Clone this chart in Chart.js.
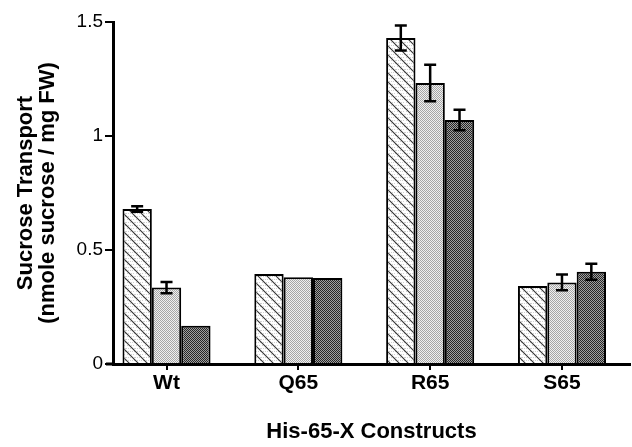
<!DOCTYPE html>
<html lang="en">
<head>
    <meta charset="UTF-8">
    <title>Sucrose Transport</title>
    <style>
        html, body { margin: 0; padding: 0; background: #fff; }
        .container-canvas { width: 632px; height: 447px; }
    </style>
</head>
<body>
    <div class="container-canvas">
        <canvas id="myChart"></canvas>
    </div>

    <script src="https://cdn.jsdelivr.net/npm/chart.js"></script>
    <script>
        // data
        const categories = ['Wt', 'Q65', 'R65', 'S65'];
        const hatchedValues = [0.68, 0.395, 1.43, 0.342];
        const hatchedErrors = [0.012, 0, 0.055, 0];
        const lightValues = [0.335, 0.38, 1.232, 0.358];
        const lightErrors = [0.025, 0, 0.08, 0.035];
        const darkValues = [0.168, 0.377, 1.07, 0.405];
        const darkErrors = [0, 0, 0.045, 0.035];
        const yTicks = [0, 0.5, 1, 1.5];

        const fontFamily = '"Liberation Sans", Arial, Helvetica, sans-serif';

        function makePattern(draw, size) {
            const c = document.createElement('canvas');
            c.width = size;
            c.height = size;
            const g = c.getContext('2d');
            draw(g, size);
            return g.createPattern(c, 'repeat');
        }

        function stipple(g, size, bg, dot, step) {
            g.fillStyle = bg;
            g.fillRect(0, 0, size, size);
            g.fillStyle = dot;
            for (let y = 0; y < size; y += step) {
                for (let x = (y / step) % 2 ? 1 : 0; x < size; x += 2) {
                    g.fillRect(x, y, 1, 1);
                }
            }
        }

        const hatchPattern = makePattern(function (g, s) {
            stipple(g, s, '#ffffff', '#cfcfcf', 3);
            g.strokeStyle = '#333';
            g.lineWidth = 1.1;
            g.beginPath();
            g.moveTo(0, 0); g.lineTo(s, s);
            g.moveTo(-s, 0); g.lineTo(s, 2 * s);
            g.moveTo(0, -s); g.lineTo(2 * s, s);
            g.stroke();
        }, 9);

        const lightPattern = makePattern(function (g, s) {
            stipple(g, s, '#f0f0f0', '#a6a6a6', 1);
        }, 8);

        const darkPattern = makePattern(function (g, s) {
            stipple(g, s, '#a0a0a0', '#262626', 1);
        }, 8);

        function toPoints(values) {
            return values.map(function (v, i) { return { x: i, y: v }; });
        }

        const errorBars = {
            id: 'errorBars',
            afterDatasetsDraw(chart) {
                const ctx = chart.ctx;
                const yScale = chart.scales.y;
                ctx.save();
                ctx.strokeStyle = '#000';
                ctx.lineWidth = 2.5;
                chart.data.datasets.forEach(function (ds, i) {
                    const meta = chart.getDatasetMeta(i);
                    meta.data.forEach(function (bar, j) {
                        const e = ds.errors[j];
                        if (!e) return;
                        const v = ds.data[j].y;
                        const top = yScale.getPixelForValue(v + e);
                        const bottom = yScale.getPixelForValue(v - e);
                        const x = bar.x;
                        ctx.beginPath();
                        ctx.moveTo(x, top); ctx.lineTo(x, bottom);
                        ctx.moveTo(x - 6, top); ctx.lineTo(x + 6, top);
                        ctx.moveTo(x - 6, bottom); ctx.lineTo(x + 6, bottom);
                        ctx.stroke();
                    });
                });
                ctx.restore();
            }
        };

        // the x axis line runs a little past the y axis, to the "0" label
        const axisStub = {
            id: 'axisStub',
            afterDraw(chart) {
                const ctx = chart.ctx;
                const area = chart.chartArea;
                ctx.save();
                ctx.strokeStyle = '#000';
                ctx.lineWidth = 3;
                ctx.beginPath();
                ctx.moveTo(area.left - 7, area.bottom);
                ctx.lineTo(area.left, area.bottom);
                ctx.stroke();
                ctx.restore();
            }
        };

        const data = {
            datasets: [{
                data: toPoints(hatchedValues),
                errors: hatchedErrors,
                backgroundColor: hatchPattern,
                borderColor: '#000',
                borderWidth: 2
            },
            {
                data: toPoints(lightValues),
                errors: lightErrors,
                backgroundColor: lightPattern,
                borderColor: '#000',
                borderWidth: 2
            },
            {
                data: toPoints(darkValues),
                errors: darkErrors,
                backgroundColor: darkPattern,
                borderColor: '#000',
                borderWidth: 2
            }]
        };

        const config = {
            type: 'bar',
            data: data,
            options: {
                responsive: true,
                maintainAspectRatio: false,
                animation: false,
                categoryPercentage: 0.668,
                barPercentage: 1,
                layout: { padding: { left: 0, right: 2, top: 22, bottom: 0 } },
                plugins: {
                    legend: { display: false },
                    tooltip: { enabled: false }
                },
                scales: {
                    x: {
                        type: 'linear',
                        min: -0.406,
                        max: 3.516,
                        offset: false,
                        z: 1,
                        afterFit: function (scale) { scale.height = 83; },
                        afterBuildTicks: function (scale) {
                            scale.ticks = categories.map(function (c, i) { return { value: i }; });
                        },
                        ticks: {
                            color: '#000',
                            padding: 1,
                            maxRotation: 0,
                            autoSkip: false,
                            font: { family: fontFamily, size: 21, weight: 'bold' },
                            callback: function (v) { return categories[v]; }
                        },
                        grid: {
                            offset: false,
                            drawOnChartArea: false,
                            color: '#000',
                            lineWidth: 2,
                            tickLength: 6
                        },
                        border: { display: true, color: '#000', width: 3 },
                        title: {
                            display: true,
                            text: 'His-65-X Constructs',
                            color: '#000',
                            padding: { top: 0, bottom: 2 },
                            font: { family: fontFamily, size: 22, weight: 'bold' }
                        }
                    },
                    y: {
                        min: 0,
                        max: 1.5,
                        afterFit: function (scale) { scale.width = 113; },
                        afterBuildTicks: function (scale) {
                            scale.ticks = yTicks.map(function (v) { return { value: v }; });
                        },
                        ticks: {
                            color: '#000',
                            padding: 2,
                            font: { family: fontFamily, size: 19 },
                            callback: function (v) { return String(v); }
                        },
                        grid: {
                            drawOnChartArea: false,
                            color: '#000',
                            lineWidth: 2,
                            tickLength: 8
                        },
                        border: { display: true, color: '#000', width: 3 },
                        title: {
                            display: true,
                            text: ['Sucrose Transport', '(nmole sucrose / mg FW)'],
                            color: '#000',
                            padding: { top: 15, bottom: 0 },
                            font: { family: fontFamily, size: 22, weight: 'bold', lineHeight: 1 }
                        }
                    }
                }
            },
            plugins: [errorBars, axisStub]
        };

        const myChart = new Chart(
            document.getElementById('myChart'),
            config
        );
    </script>
</body>
</html>
